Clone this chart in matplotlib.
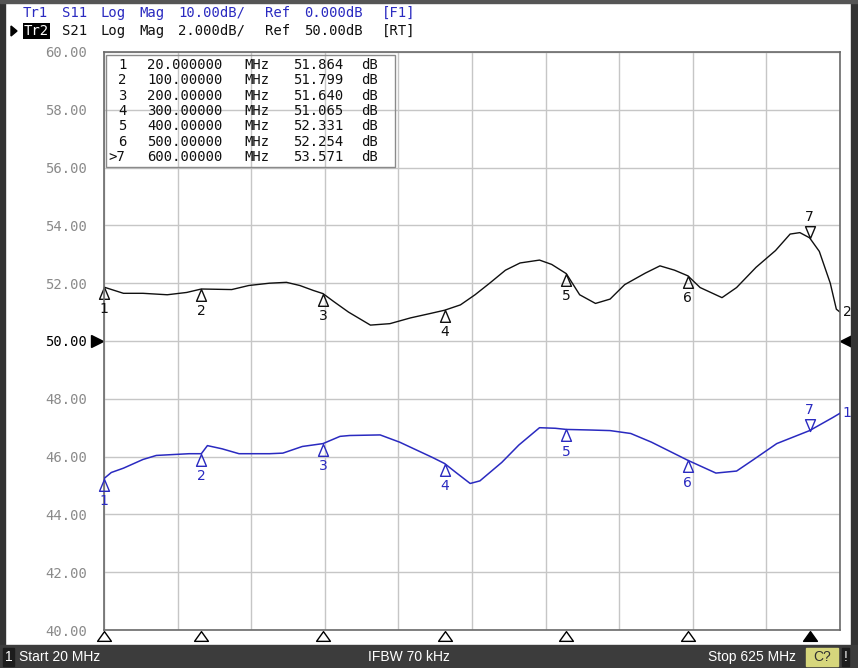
import re
import matplotlib
matplotlib.use('Agg')
import matplotlib.pyplot as plt
import matplotlib.transforms as mtransforms
from matplotlib.path import Path
from matplotlib.patches import Rectangle, Polygon

W, H = 858, 668

# stimulus range (MHz)
f_start, f_stop = 20, 625

# marker table values (Tr2 S21) and the S11 values at the same markers
mk_labels = ['1', '2', '3', '4', '5', '6', '>7']
mk_freq = [20, 100, 200, 300, 400, 500, 600]
mk_s21 = [51.864, 51.799, 51.640, 51.065, 52.331, 52.254, 53.571]
mk_s11 = [-23.8, -19.5, -17.75, -21.2, -15.3, -20.65, -15.5]

# Tr2 S21 trace (dB)
s21_freq = [20, 36, 52, 72, 88, 100, 125, 139, 156, 170, 181, 192, 200, 209, 221,
            239, 255, 272, 288, 300, 313, 325, 337, 350, 362, 378, 388, 400, 411,
            424, 436, 448, 465, 477, 489, 500, 510, 528, 540, 556, 572, 584, 592,
            600, 608, 617, 622, 625]
s21_db = [51.864, 51.65, 51.65, 51.6, 51.68, 51.799, 51.78, 51.92, 52.0, 52.03,
          51.92, 51.75, 51.64, 51.36, 51.0, 50.55, 50.6, 50.8, 50.95, 51.065,
          51.25, 51.6, 52.0, 52.45, 52.7, 52.8, 52.65, 52.331, 51.6, 51.3, 51.45,
          51.95, 52.35, 52.6, 52.45, 52.254, 51.85, 51.5, 51.85, 52.55, 53.13,
          53.7, 53.75, 53.571, 53.1, 52.0, 51.1, 51.0]

# Tr1 S11 trace (dB)
s11_freq = [20, 26, 36, 52, 63, 90, 100, 105, 117, 131, 156, 167, 183, 200, 214,
            222, 247, 263, 290, 300, 309, 321, 329, 347, 361, 378, 391, 400, 420,
            436, 453, 470, 500, 523, 540, 553, 573, 600, 619, 625]
s11_db = [-23.8, -22.75, -22.0, -20.5, -19.8, -19.5, -19.5, -18.1, -18.65, -19.5,
          -19.5, -19.4, -18.25, -17.75, -16.5, -16.35, -16.25, -17.5, -20.15, -21.2,
          -22.7, -24.65, -24.2, -21.0, -18.0, -15.0, -15.1, -15.3, -15.4, -15.5,
          -16.0, -17.5, -20.65, -22.85, -22.5, -20.65, -17.75, -15.5, -13.25, -12.5]

header1 = 'Tr1 S11 Log Mag 10.00dB/ Ref 0.000dB [F1]'
header2 = '    S21 Log Mag 2.000dB/ Ref 50.00dB [RT]'

black = '#101010'
blue = '#2a2ac0'
mono = 'DejaVu Sans Mono'


def fx(px):
    return px / W


def fy(py):
    return 1 - py / H


def grid_text(x, y, s, color, adv=9.7, size=10):
    # lay words out on a fixed character grid like the analyzer screen
    for m in re.finditer(r'\S+', s):
        fig.text(fx(x + m.start() * adv), fy(y), m.group(), color=color,
                 family=mono, fontsize=size, va='center', ha='left')


fig = plt.figure(figsize=(W / 100, H / 100), dpi=100)
fig.patch.set_facecolor('white')

# window frame and status bar
fig.patches.append(Rectangle((0, 0), fx(5), 1, transform=fig.transFigure, color='#333333'))
fig.patches.append(Rectangle((fx(851), 0), fx(7), 1, transform=fig.transFigure, color='#333333'))
fig.patches.append(Rectangle((0, fy(3)), 1, fx(0) + 3 / H, transform=fig.transFigure, color='#555555'))
fig.patches.append(Rectangle((0, 0), 1, 23 / H, transform=fig.transFigure, color='#3c3c3c'))
fig.patches.append(Rectangle((fx(3), fy(666)), fx(11), 18 / H, transform=fig.transFigure, color='#1c1c1c'))
fig.patches.append(Rectangle((fx(806), fy(666)), fx(32), 18 / H, transform=fig.transFigure, color='#d6d67c'))
fig.patches.append(Rectangle((fx(842), fy(666)), fx(7), 18 / H, transform=fig.transFigure, color='#1c1c1c'))

sb = dict(family='Liberation Sans', fontsize=10, va='center', color='white')
fig.text(fx(8.5), fy(657), '1', ha='center', **sb)
fig.text(fx(19), fy(657), 'Start 20 MHz', ha='left', **sb)
fig.text(fx(409), fy(657), 'IFBW 70 kHz', ha='center', **sb)
fig.text(fx(796), fy(657), 'Stop 625 MHz', ha='right', **sb)
fig.text(fx(822), fy(657), 'C?', ha='center', family='Liberation Sans', fontsize=10,
         va='center', color='#303030')
fig.text(fx(845.5), fy(657), '!', ha='center', **sb)

# header lines
grid_text(23, 13, header1, blue)
grid_text(23, 31, header2, black)
fig.text(fx(24), fy(31), 'Tr2', color='white', family=mono, fontsize=10, va='center',
         ha='left', bbox=dict(boxstyle='square,pad=0.08', fc='black', ec='none'))
fig.patches.append(Polygon([(fx(11), fy(26)), (fx(17), fy(31)), (fx(11), fy(36))],
                           closed=True, transform=fig.transFigure, color='black'))

# main grid
ax = fig.add_axes([fx(104), fy(630), fx(840) - fx(104), fy(52) - fy(630)])
ax.set_xlim(f_start, f_stop)
ax.set_ylim(40, 60)
ax.set_xticks([f_start + i * (f_stop - f_start) / 10 for i in range(11)])
ax.set_xticklabels([])
ax.set_yticks(range(40, 61, 2))
ax.set_yticklabels([f'{v:.2f}' for v in range(40, 61, 2)], family=mono, fontsize=10)
for lab in ax.get_yticklabels():
    lab.set_color('black' if lab.get_text() == '50.00' else '#8a8a8a')
ax.tick_params(length=0, pad=12)
ax.grid(True, color='#c6c6c6', lw=1)
ax.set_axisbelow(True)
for sp in ax.spines.values():
    sp.set_color('#6a6a6a')
    sp.set_linewidth(1.2)

# S11 lives on its own scale: 10 dB/div, ref 0 dB at the centre line
ax2 = ax.twinx()
ax2.set_ylim(-50, 50)
ax2.set_yticks([])
for sp in ax2.spines.values():
    sp.set_visible(False)

ax.plot(s21_freq, s21_db, color=black, lw=1)
ax2.plot(s11_freq, s11_db, color=blue, lw=1.1)

# marker glyphs: tip sits on the trace
tri_up = Path([(0, 0), (0.42, -1), (-0.42, -1), (0, 0)], closed=True)
tri_dn = Path([(0, 0), (0.42, 1), (-0.42, 1), (0, 0)], closed=True)
for axis, vals, col in [(ax, mk_s21, black), (ax2, mk_s11, blue)]:
    for lbl, f, v in zip(mk_labels, mk_freq, vals):
        num = lbl.strip('>')
        if lbl.startswith('>'):
            axis.plot(f, v, marker=tri_dn, ms=17, mfc='none', mec=col, mew=1, clip_on=False)
            axis.annotate(num, (f, v), xytext=(0, 15), textcoords='offset points',
                          ha='center', va='center', color=col, fontsize=10,
                          annotation_clip=False)
        else:
            axis.plot(f, v, marker=tri_up, ms=17, mfc='none', mec=col, mew=1, clip_on=False)
            axis.annotate(num, (f, v), xytext=(0, -16), textcoords='offset points',
                          ha='center', va='center', color=col, fontsize=10,
                          annotation_clip=False)

# trace numbers at the right end
ax.annotate('2', (s21_freq[-1], s21_db[-1]), xytext=(2, 0), textcoords='offset points',
            ha='left', va='center', color=black, fontsize=10, annotation_clip=False)
ax2.annotate('1', (s11_freq[-1], s11_db[-1]), xytext=(2, 0), textcoords='offset points',
             ha='left', va='center', color=blue, fontsize=10, annotation_clip=False)

# reference level arrows at 50 dB
ref_tr = mtransforms.blended_transform_factory(ax.transAxes, ax.transData)
ax.plot([-0.0095], [50], marker='>', ms=9, color='black', transform=ref_tr, clip_on=False)
ax.plot([1.008], [50], marker='<', ms=9, color='black', transform=ref_tr, clip_on=False)

# stimulus markers under the grid
stim_tr = mtransforms.blended_transform_factory(ax.transData, ax.transAxes)
stim = Path([(0, 0.7), (1, -0.7), (-1, -0.7), (0, 0.7)], closed=True)
for lbl, f in zip(mk_labels, mk_freq):
    fc = 'black' if lbl.startswith('>') else 'white'
    ax.plot([f], [-0.0104], marker=stim, ms=10, mfc=fc, mec='black', mew=1,
            transform=stim_tr, clip_on=False)

# marker table box (gridlines show through it)
ax.add_patch(Rectangle((0.003, 1 - (167 - 52) / 578), (395 - 106) / 736, (167 - 55) / 578,
                       transform=ax.transAxes, fill=False, ec='#8a8a8a', lw=1))
for i, (lbl, f, v) in enumerate(zip(mk_labels, mk_freq, mk_s21)):
    row = f'{lbl:>2}  {f"{f:.6f}"[:9]} MHz  {v:6.3f} dB'
    grid_text(108.6, 65 + 15.3 * i, row, black)

fig.savefig('out.png', dpi=100, facecolor=fig.get_facecolor())
